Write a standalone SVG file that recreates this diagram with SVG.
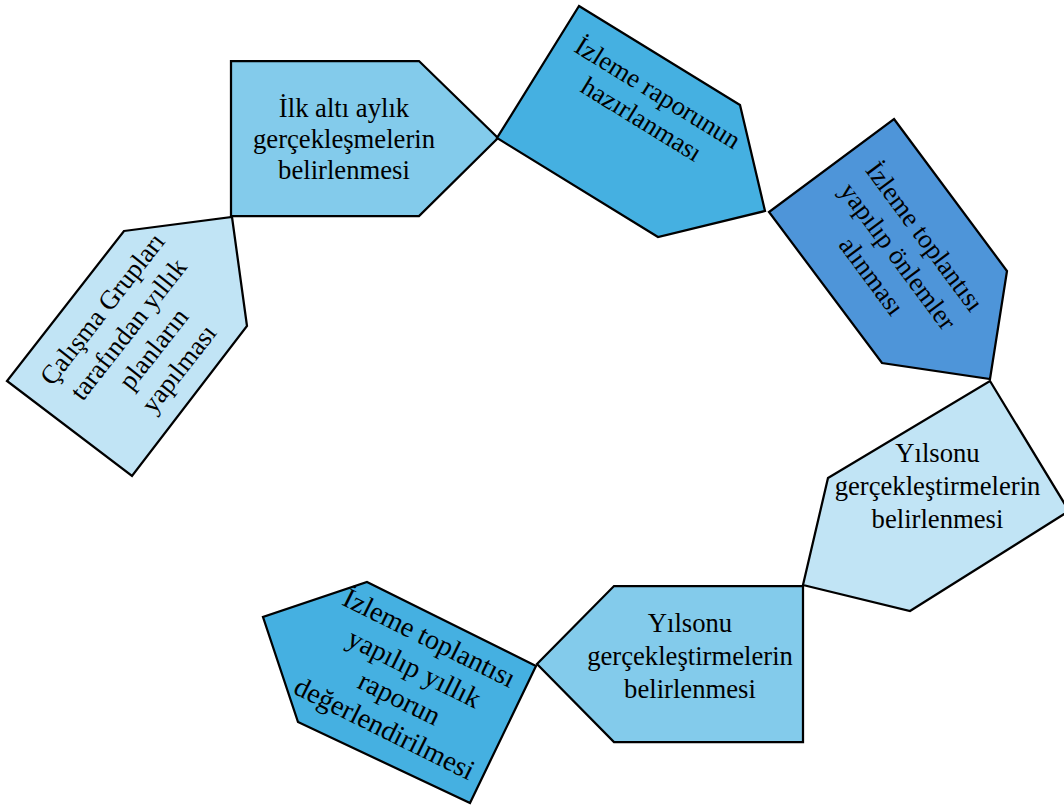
<svg xmlns="http://www.w3.org/2000/svg" width="1064" height="808" viewBox="0 0 1064 808">
<style>
.n{stroke:#000;stroke-width:2.25;stroke-linejoin:miter}
.c1{fill:#C1E4F5}.c2{fill:#83CBEB}.c3{fill:#45B0E1}.c4{fill:#4E95D9}
text{font-family:"Liberation Serif","Times New Roman",serif;font-size:26.67px;fill:#000;text-anchor:middle}
.big{font-size:28.2px}
</style>
<rect width="1064" height="808" fill="#fff"/>
<g id="connectors"></g>
<g id="n1">
<polygon class="n c1" points="124,231 232,217 247,326 132,476 7,381"/>
<g transform="translate(141.6,339.5) rotate(-52)">
<text x="0" y="-41">Çalışma Grupları</text>
<text x="0" y="-8">tarafından yıllık</text>
<text x="0" y="24">planların</text>
<text x="0" y="56">yapılması</text>
</g>
</g>
<g id="n2">
<polygon class="n c2" points="231,61 419,61 498,138 419,216 231,216"/>
<text x="344" y="117">İlk altı aylık</text>
<text x="344" y="148">gerçekleşmelerin</text>
<text x="344" y="179">belirlenmesi</text>
</g>
<g id="n3">
<polygon class="n c3" points="579,6 740,105 765,211 658,237 497,138"/>
<g transform="translate(648.7,107.5) rotate(31.6)">
<text x="0" y="-8.5">İzleme raporunun</text>
<text x="0" y="22.5">hazırlanması</text>
</g>
</g>
<g id="n4">
<polygon class="n c4" points="894,119 1007,271 990,379 882,363 769,212"/>
<g transform="translate(896.7,257.3) rotate(53.4)">
<text x="0" y="-26">İzleme toplantısı</text>
<text x="0" y="7">yapılıp önlemler</text>
<text x="0" y="40">alınması</text>
</g>
</g>
<g id="n5">
<polygon class="n c1" points="990,381 1069,511 910,611 803,585 828,478"/>
<text x="937.5" y="462">Yılsonu</text>
<text x="937.5" y="495">gerçekleştirmelerin</text>
<text x="937.5" y="528">belirlenmesi</text>
</g>
<g id="n6">
<polygon class="n c2" points="614,586 803,586 803,742 614,742 537,664"/>
<text x="690" y="632">Yılsonu</text>
<text x="690" y="665">gerçekleştirmelerin</text>
<text x="690" y="698">belirlenmesi</text>
</g>
<g id="n7">
<polygon class="n c3" points="367,582 536,666 470,803 298,722 263,617"/>
<g transform="translate(406.2,684.7) rotate(26.4)">
<text class="big" x="0" y="-43">İzleme toplantısı</text>
<text class="big" x="0" y="-9">yapılıp yıllık</text>
<text class="big" x="0" y="24.5">raporun</text>
<text class="big" x="0" y="58">değerlendirilmesi</text>
</g>
</g>
</svg>
